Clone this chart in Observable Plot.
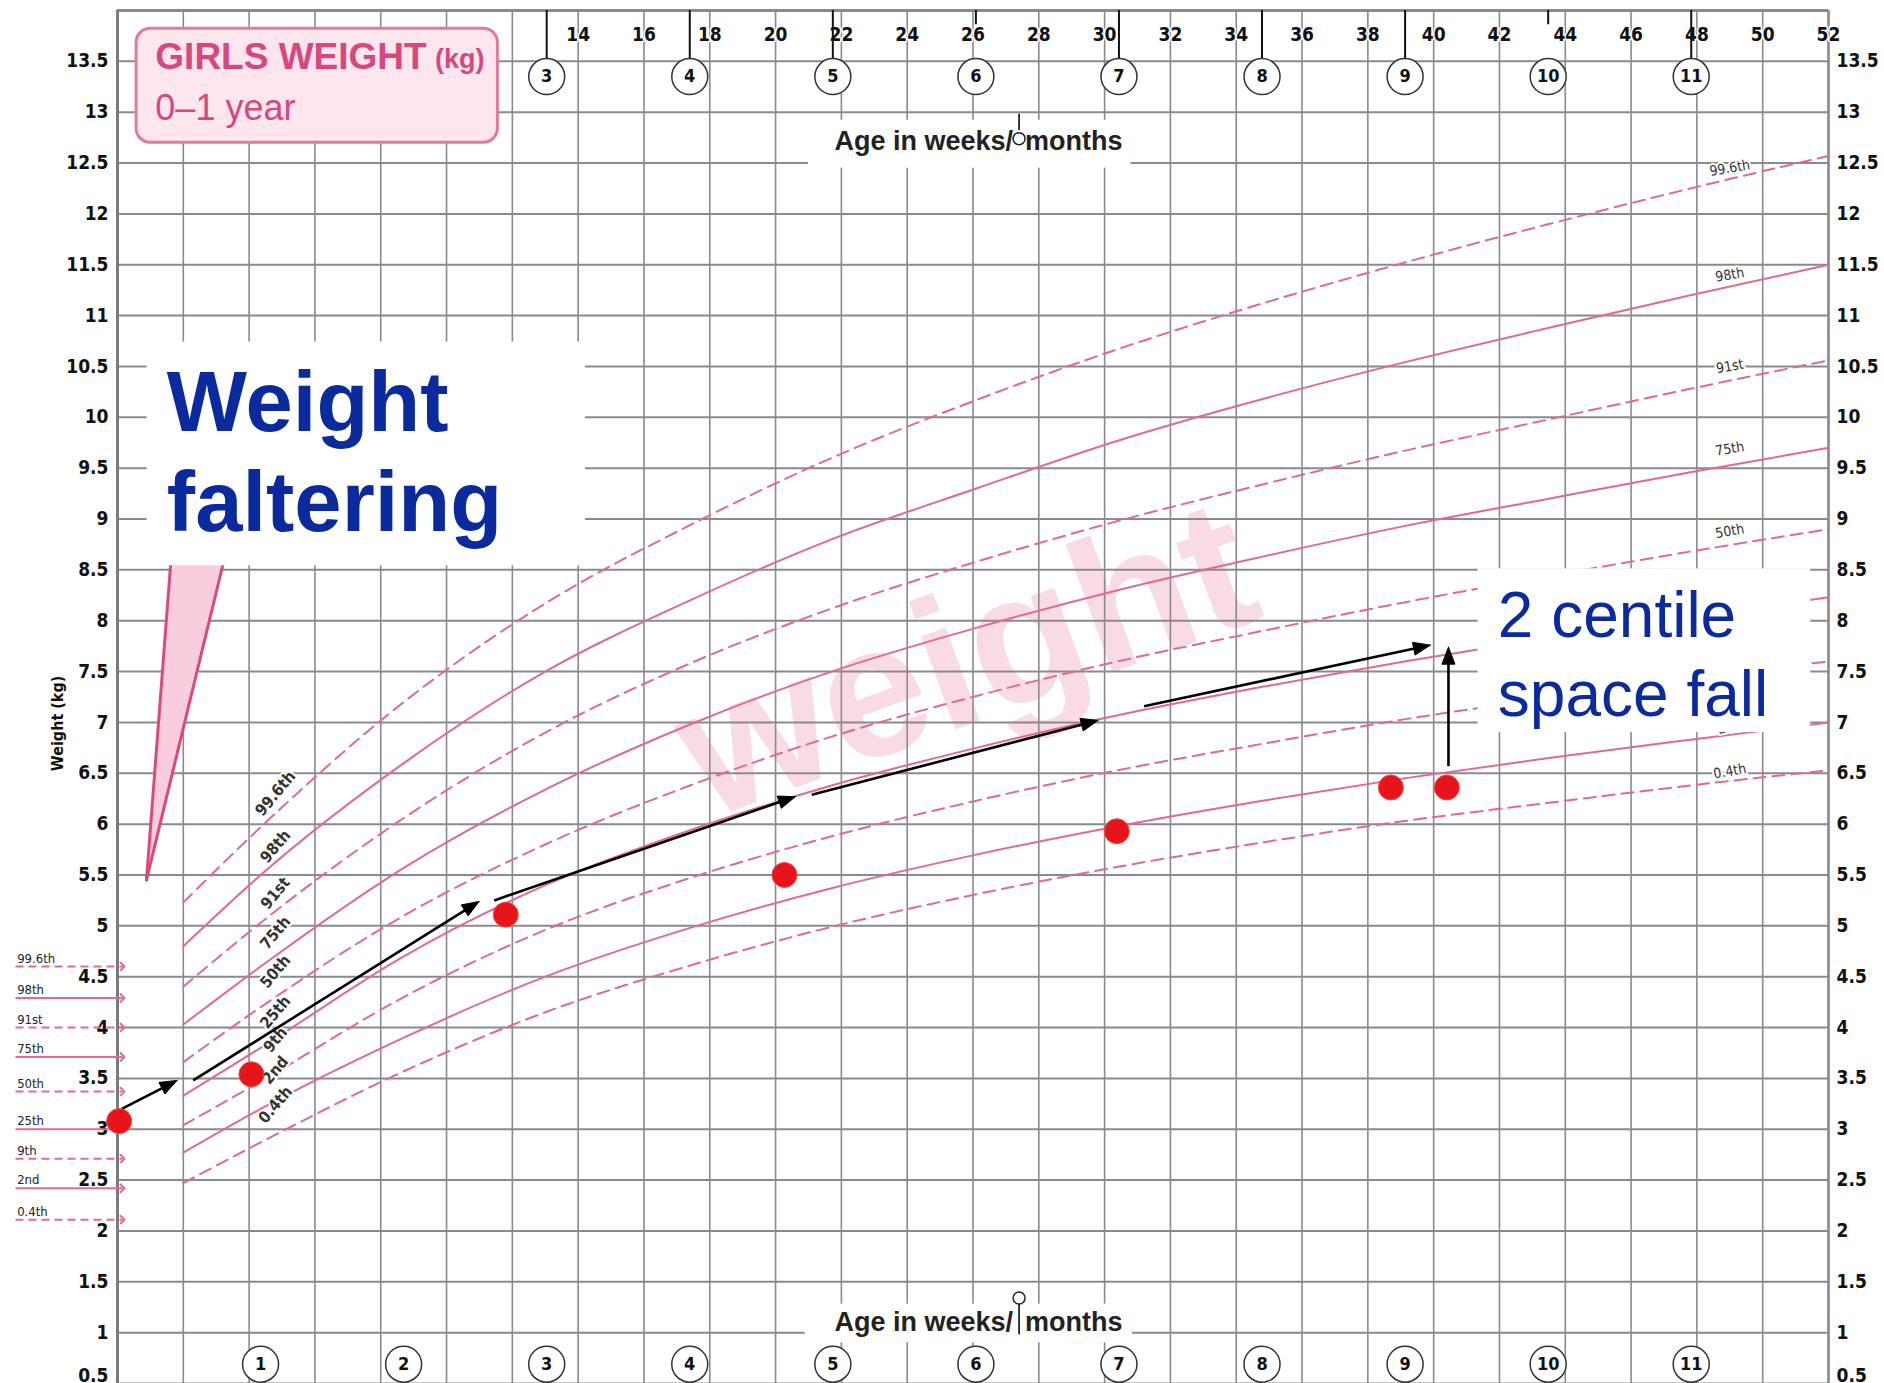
<!DOCTYPE html>
<html><head><meta charset="utf-8">
<script src="https://cdn.jsdelivr.net/npm/d3@7"></script>
<script src="https://cdn.jsdelivr.net/npm/@observablehq/plot@0.6"></script>
<style>
body{margin:0;background:#fff;}
#chart svg{display:block;}
</style></head><body><div id="chart"></div>
<script>
// ---------- data ----------
const ageWeeks = [2, 4.35, 8.7, 13.0, 17.4, 21.7, 26.1, 30.4, 34.8, 39.1, 43.5, 47.8, 52];
const c99_6 = [5.23, 5.97, 7.2, 8.17, 8.94, 9.6, 10.17, 10.67, 11.12, 11.52, 11.9, 12.25, 12.57];
const c98   = [4.8, 5.5, 6.6, 7.5, 8.2, 8.8, 9.3, 9.77, 10.18, 10.54, 10.88, 11.2, 11.5];
const c91   = [4.4, 5.03, 6.06, 6.9, 7.58, 8.12, 8.58, 8.98, 9.34, 9.67, 9.98, 10.28, 10.56];
const c75   = [4.03, 4.6, 5.57, 6.34, 6.98, 7.5, 7.93, 8.3, 8.63, 8.93, 9.2, 9.46, 9.7];
const c50   = [3.66, 4.2, 5.1, 5.8, 6.38, 6.86, 7.26, 7.6, 7.9, 8.18, 8.44, 8.68, 8.9];
const c25   = [3.33, 3.8, 4.7, 5.4, 5.94, 6.38, 6.75, 7.07, 7.35, 7.6, 7.83, 8.04, 8.23];
const c9    = [3.04, 3.47, 4.3, 4.96, 5.47, 5.88, 6.23, 6.53, 6.79, 7.03, 7.24, 7.43, 7.6];
const c2    = [2.77, 3.2, 3.9, 4.5, 4.98, 5.37, 5.7, 5.98, 6.23, 6.45, 6.65, 6.83, 7.0];
const c0_4  = [2.47, 2.87, 3.57, 4.15, 4.61, 4.99, 5.31, 5.58, 5.82, 6.03, 6.21, 6.38, 6.53];

const centileNames  = ["99.6th", "98th", "91st", "75th", "50th", "25th", "9th", "2nd", "0.4th"];
const centileDashed = [true, false, true, false, true, false, true, false, true];
const birthCentileKg = [4.6, 4.29, 4.0, 3.71, 3.37, 3.0, 2.71, 2.42, 2.11];
const leftLabelKg  = [6.3, 5.78, 5.32, 4.93, 4.55, 4.15, 3.88, 3.58, 3.24];
const rightLabelKg = [12.45, 11.4, 10.5, 9.69, 8.88, 8.1, 7.5, 6.95, 6.52];

// child's measurements
const measureWeeks = [0.05, 4.07, 11.8, 20.27, 30.37, 38.7, 40.4];
const measureKg    = [3.08, 3.54, 5.11, 5.5, 5.93, 6.36, 6.36];

// expected-trajectory arrows
const arrowWeek1 = [0.13, 2.3, 11.45, 21.1, 31.2, 40.45];
const arrowKg1   = [3.2, 3.48, 5.25, 6.29, 7.16, 6.57];
const arrowWeek2 = [1.81, 10.99, 20.6, 29.8, 39.9, 40.45];
const arrowKg2   = [3.48, 5.24, 6.27, 7.02, 7.76, 7.74];

// axes
const weightTicks = [0.5, 1, 1.5, 2, 2.5, 3, 3.5, 4, 4.5, 5, 5.5, 6, 6.5, 7, 7.5, 8, 8.5, 9, 9.5, 10, 10.5, 11, 11.5, 12, 12.5, 13, 13.5];
const weekGrid = [0, 2, 4, 6, 8, 10, 12, 14, 16, 18, 20, 22, 24, 26, 28, 30, 32, 34, 36, 38, 40, 42, 44, 46, 48, 50, 52];
const weekLabels = [14, 16, 18, 20, 22, 24, 26, 28, 30, 32, 34, 36, 38, 40, 42, 44, 46, 48, 50, 52];
const monthsTop = [3, 4, 5, 6, 7, 8, 9, 10, 11];
const monthsBottom = [1, 2, 3, 4, 5, 6, 7, 8, 9, 10, 11];
const monthsLongTick = [3, 4, 5, 7, 8, 9, 11];
const monthsShortTick = [6, 10];
const weeksPerMonth = 4.348;

// ---------- styling ----------
const narrow = "'Liberation Sans Narrow','DejaVu Sans Condensed','Liberation Sans',Arial,sans-serif";
const sans = "'Liberation Sans',Arial,Helvetica,sans-serif";
const pink = "#de6b95";
const grid = "#8a8a8a";
const blue = "#0a2a9e";

const X0 = 117, X1 = 1828, Y0 = 1383, Y1 = 10;
const xs = d3.scaleLinear([0, 52], [X0, X1]);
const ys = d3.scaleLinear([0.5, 14], [Y0, Y1]);

// curve rows
const curveArrays = [c99_6, c98, c91, c75, c50, c25, c9, c2, c0_4];
const curveRows = curveArrays.flatMap((arr, k) =>
  ageWeeks.map((w, i) => ({name: centileNames[k], week: w, kg: arr[i], dashed: centileDashed[k]})));

// arrows: shaft + filled head
const arrows = arrowWeek1.map((w, i) => ({x1: w, y1: arrowKg1[i], x2: arrowWeek2[i], y2: arrowKg2[i]}));
const heads = [], shafts = [];
arrows.forEach((a, i) => {
  const p1 = [xs(a.x1), ys(a.y1)], p2 = [xs(a.x2), ys(a.y2)];
  const L = Math.hypot(p2[0] - p1[0], p2[1] - p1[1]);
  const ux = (p2[0] - p1[0]) / L, uy = (p2[1] - p1[1]) / L;
  const hl = 17, hw = 6.5;
  const b = [p2[0] - ux * hl, p2[1] - uy * hl];
  const pts = [p2, [b[0] - uy * hw, b[1] + ux * hw], [b[0] + uy * hw, b[1] - ux * hw], p2];
  pts.forEach(p => heads.push({id: i, week: xs.invert(p[0]), kg: ys.invert(p[1])}));
  shafts.push({x1: a.x1, y1: a.y1, x2: xs.invert(b[0] + ux * 2), y2: ys.invert(b[1] + uy * 2)});
});

const wedge = [{kg: 5.45, left: 0.88, right: 0.88}, {kg: 9.0, left: 1.72, right: 3.54}];

const legendRows = centileNames.map((n, i) => ({name: n, kg: birthCentileKg[i], dashed: centileDashed[i]}));
const tickLabelDy = d => d === 0.5 ? -9 : 0;

const chart = Plot.plot({
  width: 1884, height: 1383,
  marginLeft: X0, marginRight: 1884 - X1, marginTop: Y1, marginBottom: 0,
  x: {domain: [0, 52], axis: null},
  y: {domain: [0.5, 14], axis: null},
  style: {fontFamily: sans, background: "white", overflow: "visible"},
  marks: [
    // watermark
    Plot.text(["weight"], {x: 25.8, y: 7.6, text: d => d, rotate: -20, fontSize: 188, fontWeight: "bold",
      fill: "#f9dbe5", fontFamily: sans, textAnchor: "middle", lineAnchor: "middle"}),
    // grid
    Plot.ruleX(weekGrid, {y1: 0.5, y2: 14, stroke: grid, strokeWidth: 1.6}),
    Plot.ruleY(weightTicks, {x1: 0, x2: 52, stroke: grid, strokeWidth: 2}),
    Plot.ruleY([14], {x1: 0, x2: 52, stroke: grid, strokeWidth: 3}),
    Plot.ruleX([0], {y1: 0.5, y2: 14, stroke: "#7a7a7a", strokeWidth: 3}),
    Plot.ruleX([52], {y1: 0.5, y2: 14, stroke: grid, strokeWidth: 2.5}),
    // centile curves
    Plot.line(curveRows.filter(d => d.dashed), {x: "week", y: "kg", z: "name", stroke: pink, strokeWidth: 2,
      strokeDasharray: "12,7", curve: "monotone-x"}),
    Plot.line(curveRows.filter(d => !d.dashed), {x: "week", y: "kg", z: "name", stroke: pink, strokeWidth: 2,
      curve: "monotone-x"}),
    // centile labels on curves
    Plot.text(centileNames, {x: 4.8, y: (d, i) => leftLabelKg[i], text: d => d, rotate: -50, fontSize: 16,
      fontWeight: "bold", fontFamily: narrow, fill: "#333", stroke: "white", strokeWidth: 4, textAnchor: "middle", lineAnchor: "middle"}),
    Plot.text(centileNames, {x: 49, y: (d, i) => rightLabelKg[i], text: d => d, rotate: -10, fontSize: 14,
      fontFamily: narrow, fill: "#333", stroke: "white", strokeWidth: 4, textAnchor: "middle", lineAnchor: "middle"}),
    // pink wedge
    Plot.areaX(wedge, {y: "kg", x1: "left", x2: "right", fill: "#f9cddd"}),
    Plot.line(wedge, {x: "left", y: "kg", stroke: "#d94a7e", strokeWidth: 3}),
    Plot.line(wedge, {x: "right", y: "kg", stroke: "#d94a7e", strokeWidth: 3}),
    // white annotation boxes
    Plot.rect([0], {x1: 0.9, x2: 14.22, y1: 8.54, y2: 10.74, fill: "white"}),
    Plot.text(["Weight", "faltering"], {x: 1.5, y: (d, i) => [9.83, 8.84][i], text: d => d, fontSize: 85,
      fontWeight: "bold", fill: blue, fontFamily: sans, textAnchor: "start", lineAnchor: "bottom", dy: -4}),
    Plot.rect([0], {x1: 41.35, x2: 51.46, y1: 6.9, y2: 8.51, fill: "white"}),
    Plot.text(["2 centile", "space fall"], {x: 41.95, y: (d, i) => [7.8, 7.02][i], text: d => d, fontSize: 64,
      fill: blue, fontFamily: sans, textAnchor: "start", lineAnchor: "bottom", dy: -4}),
    // title box
    Plot.rect([0], {x1: 0.58, x2: 11.56, y1: 12.7, y2: 13.82, fill: "#fde6ee", stroke: "#e27aa0", strokeWidth: 3, rx: 14}),
    Plot.text(["GIRLS WEIGHT"], {x: 1.15, y: 13.37, text: d => d, fontSize: 37, fontWeight: "bold", fill: "#d6487e",
      textAnchor: "start", lineAnchor: "bottom", dy: -6}),
    Plot.text(["(kg)"], {x: 9.65, y: 13.37, text: d => d, fontSize: 27, fontWeight: "bold", fill: "#d6487e",
      textAnchor: "start", lineAnchor: "bottom", dy: -7}),
    Plot.text(["0–1 year"], {x: 1.15, y: 12.9, text: d => d, fontSize: 36, fill: "#d6487e",
      textAnchor: "start", lineAnchor: "bottom", dy: -2}),
    // top age band
    Plot.text(weekLabels, {x: d => d, y: 13.76, text: d => String(d), fontSize: 19, fontWeight: "bold",
      fontFamily: narrow, fill: "#111", stroke: "white", strokeWidth: 3, lineAnchor: "middle"}),
    Plot.ruleX(monthsLongTick, {x: d => d * weeksPerMonth, y1: 14, y2: 13.52, stroke: "#111", strokeWidth: 2}),
    Plot.ruleX(monthsShortTick, {x: d => d * weeksPerMonth, y1: 14, y2: 13.86, stroke: "#111", strokeWidth: 2}),
    Plot.dot(monthsTop, {x: d => d * weeksPerMonth, y: 13.35, r: 18, fill: "white", stroke: "#333", strokeWidth: 1.5}),
    Plot.text(monthsTop, {x: d => d * weeksPerMonth, y: 13.35, text: d => String(d), fontSize: 18, fontWeight: "bold",
      fontFamily: narrow, fill: "#111", lineAnchor: "middle"}),
    Plot.rect([0], {x1: 21.0, x2: 30.8, y1: 12.45, y2: 12.92, fill: "white"}),
    Plot.text(["Age in weeks/"], {x: 27.4, y: 12.71, text: d => d, fontSize: 27, fontWeight: "bold", fontFamily: sans,
      fill: "#222", textAnchor: "end", lineAnchor: "middle", dx: -6}),
    Plot.text(["months"], {x: 27.4, y: 12.71, text: d => d, fontSize: 27, fontWeight: "bold", fontFamily: sans,
      fill: "#222", textAnchor: "start", lineAnchor: "middle", dx: 6}),
    Plot.ruleX([27.4], {y1: 12.98, y2: 12.82, stroke: "#222", strokeWidth: 1.8}),
    Plot.dot([27.4], {x: d => d, y: 12.74, r: 6, fill: "white", stroke: "#222", strokeWidth: 1.5}),
    // bottom age band
    Plot.rect([0], {x1: 20.9, x2: 30.85, y1: 0.9, y2: 1.28, fill: "white"}),
    Plot.text(["Age in weeks/"], {x: 27.4, y: 1.1, text: d => d, fontSize: 27, fontWeight: "bold", fontFamily: sans,
      fill: "#222", textAnchor: "end", lineAnchor: "middle", dx: -6}),
    Plot.text(["months"], {x: 27.4, y: 1.1, text: d => d, fontSize: 27, fontWeight: "bold", fontFamily: sans,
      fill: "#222", textAnchor: "start", lineAnchor: "middle", dx: 6}),
    Plot.ruleX([27.4], {y1: 1.29, y2: 0.98, stroke: "#222", strokeWidth: 1.8}),
    Plot.dot([27.4], {x: d => d, y: 1.34, r: 6, fill: "white", stroke: "#222", strokeWidth: 1.5}),
    Plot.dot(monthsBottom, {x: d => d * weeksPerMonth, y: 0.69, r: 18, fill: "white", stroke: "#333", strokeWidth: 1.5}),
    Plot.text(monthsBottom, {x: d => d * weeksPerMonth, y: 0.69, text: d => String(d), fontSize: 18, fontWeight: "bold",
      fontFamily: narrow, fill: "#111", lineAnchor: "middle"}),
    // weight axes (left and right)
    Plot.text(weightTicks.filter(d => d !== 0.5), {x: 0, y: d => d, text: d => String(d), dx: -9, textAnchor: "end", fontSize: 19,
      fontWeight: "bold", fontFamily: narrow, fill: "#111", lineAnchor: "middle"}),
    Plot.text(weightTicks.filter(d => d !== 0.5), {x: 52, y: d => d, text: d => String(d), dx: 8, textAnchor: "start", fontSize: 19,
      fontWeight: "bold", fontFamily: narrow, fill: "#111", lineAnchor: "middle"}),
    Plot.text(weightTicks.filter(d => d === 0.5), {x: 0, y: d => d, text: d => String(d), dx: -9, textAnchor: "end", fontSize: 19,
      fontWeight: "bold", fontFamily: narrow, fill: "#111", lineAnchor: "bottom", dy: -2}),
    Plot.text(weightTicks.filter(d => d === 0.5), {x: 52, y: d => d, text: d => String(d), dx: 8, textAnchor: "start", fontSize: 19,
      fontWeight: "bold", fontFamily: narrow, fill: "#111", lineAnchor: "bottom", dy: -2}),
    Plot.text(["Weight (kg)"], {x: -1.82, y: 6.99, text: d => d, rotate: -90, fontSize: 16, fontWeight: "bold",
      fontFamily: narrow, fill: "#111", lineAnchor: "middle"}),
    // birth centile legend (left margin)
    Plot.link(legendRows.filter(d => !d.dashed), {x1: -3.1, x2: 0.15, y1: "kg", y2: "kg", stroke: pink, strokeWidth: 2, markerEnd: "arrow"}),
    Plot.link(legendRows.filter(d => d.dashed), {x1: -3.1, x2: 0.15, y1: "kg", y2: "kg", stroke: pink, strokeWidth: 2,
      strokeDasharray: "8,5", markerEnd: "arrow"}),
    Plot.text(legendRows, {x: -3.05, y: "kg", text: "name", dy: -8, textAnchor: "start", fontSize: 13,
      fontFamily: narrow, fill: "#222", stroke: "white", strokeWidth: 2}),
    // trajectory arrows
    Plot.link(shafts, {x1: "x1", y1: "y1", x2: "x2", y2: "y2", stroke: "#000", strokeWidth: 2.6}),
    Plot.line(heads, {x: "week", y: "kg", z: "id", fill: "#000", stroke: "#000", strokeWidth: 1}),
    // measurements
    Plot.dot(measureWeeks, {x: d => d, y: (d, i) => measureKg[i], r: 12.5, fill: "#e8141b", stroke: "#f04a3a", strokeWidth: 1})
  ]
});
document.getElementById("chart").append(chart);
</script>
</body></html>
